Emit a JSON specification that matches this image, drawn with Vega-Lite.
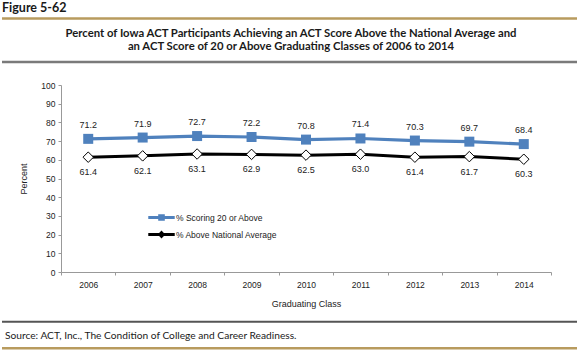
{
  "$schema": "https://vega.github.io/schema/vega-lite/v6.json",
  "padding": 0,
  "spacing": 0,
  "config": {
    "view": {"stroke": null},
    "concat": {"spacing": 0},
    "font": "Liberation Sans"
  },
  "resolve": {"scale": {"x": "independent", "y": "independent"}},
  "vconcat": [
    {
      "width": 577,
      "height": 81,
      "data": {"values": [{}]},
      "layer": [
        {
          "mark": {"type": "text", "align": "left", "baseline": "middle", "font": "Lato", "fontWeight": "bold", "fontSize": 12.5, "color": "#1a1a1a"},
          "encoding": {
            "x": {"datum": 0, "type": "quantitative", "scale": {"domain": [0, 577], "nice": false, "zero": false}, "axis": null},
            "y": {"datum": 7.5, "type": "quantitative", "scale": {"domain": [0, 81], "nice": false, "zero": false, "reverse": true}, "axis": null},
            "text": {"value": "Figure 5-62"}
          }
        },
        {
          "mark": {"type": "rule", "color": "#B89B5E", "strokeWidth": 2.5},
          "encoding": {
            "x": {"datum": 0, "type": "quantitative"},
            "x2": {"datum": 577},
            "y": {"datum": 18.5, "type": "quantitative"}
          }
        },
        {
          "mark": {"type": "text", "align": "center", "baseline": "middle", "font": "Lato", "fontWeight": "bold", "fontSize": 11.3, "color": "#1a1a1a"},
          "encoding": {
            "x": {"datum": 289, "type": "quantitative"},
            "y": {"datum": 33.5, "type": "quantitative"},
            "text": {"value": "Percent of Iowa ACT Participants Achieving an ACT Score Above the National Average and"}
          }
        },
        {
          "mark": {"type": "text", "align": "center", "baseline": "middle", "font": "Lato", "fontWeight": "bold", "fontSize": 11.3, "color": "#1a1a1a"},
          "encoding": {
            "x": {"datum": 289, "type": "quantitative"},
            "y": {"datum": 47, "type": "quantitative"},
            "text": {"value": "an ACT Score of 20 or Above Graduating Classes of 2006 to 2014"}
          }
        },
        {
          "mark": {"type": "rule", "color": "#7a7a7a", "strokeWidth": 2.5},
          "encoding": {
            "x": {"datum": 0, "type": "quantitative"},
            "x2": {"datum": 577},
            "y": {"datum": 62, "type": "quantitative"}
          }
        }
      ]
    },
    {
      "spacing": 0,
      "resolve": {"scale": {"x": "independent", "y": "independent"}},
      "hconcat": [
        {
          "width": 16.5,
          "height": 187,
          "data": {"values": [{}]},
          "mark": {"type": "text", "text": ""},
          "encoding": {}
        },
        {
          "width": 490,
          "height": 187,
          "data": {
            "values": [
              {"year": "2006", "series": "% Scoring 20 or Above", "value": 71.2},
              {"year": "2007", "series": "% Scoring 20 or Above", "value": 71.9},
              {"year": "2008", "series": "% Scoring 20 or Above", "value": 72.7},
              {"year": "2009", "series": "% Scoring 20 or Above", "value": 72.2},
              {"year": "2010", "series": "% Scoring 20 or Above", "value": 70.8},
              {"year": "2011", "series": "% Scoring 20 or Above", "value": 71.4},
              {"year": "2012", "series": "% Scoring 20 or Above", "value": 70.3},
              {"year": "2013", "series": "% Scoring 20 or Above", "value": 69.7},
              {"year": "2014", "series": "% Scoring 20 or Above", "value": 68.4},
              {"year": "2006", "series": "% Above National Average", "value": 61.4},
              {"year": "2007", "series": "% Above National Average", "value": 62.1},
              {"year": "2008", "series": "% Above National Average", "value": 63.1},
              {"year": "2009", "series": "% Above National Average", "value": 62.9},
              {"year": "2010", "series": "% Above National Average", "value": 62.5},
              {"year": "2011", "series": "% Above National Average", "value": 63.0},
              {"year": "2012", "series": "% Above National Average", "value": 61.4},
              {"year": "2013", "series": "% Above National Average", "value": 61.7},
              {"year": "2014", "series": "% Above National Average", "value": 60.3}
            ]
          },
          "encoding": {
            "x": {
              "field": "year", "type": "ordinal", "bandPosition": 0.5,
              "scale": {"type": "band", "paddingInner": 0, "paddingOuter": 0},
              "axis": {
                "title": "Graduating Class", "titleFontSize": 9, "titleFontWeight": "normal", "titleColor": "#222", "titlePadding": 11,
                "labelAngle": 0, "labelFontSize": 8.5, "labelColor": "#222", "labelPadding": 5,
                "tickBand": "extent", "tickSize": 3, "tickColor": "#999", "domainColor": "#999", "grid": false
              }
            },
            "y": {
              "field": "value", "type": "quantitative",
              "scale": {"domain": [0, 100], "nice": false},
              "axis": {
                "title": "Percent", "titleFontSize": 9, "titleFontWeight": "normal", "titleColor": "#222", "titlePadding": 12,
                "values": [0, 10, 20, 30, 40, 50, 60, 70, 80, 90, 100],
                "labelFontSize": 8.5, "labelColor": "#222", "labelPadding": 3,
                "tickSize": 3, "tickColor": "#999", "domainColor": "#999", "grid": false
              }
            }
          },
          "layer": [
            {
              "transform": [{"filter": "datum.series === '% Scoring 20 or Above'"}],
              "mark": {"type": "line", "strokeWidth": 3.2, "color": "#4F81BD"}
            },
            {
              "transform": [{"filter": "datum.series === '% Above National Average'"}],
              "mark": {"type": "line", "strokeWidth": 3, "color": "#000000"}
            },
            {
              "transform": [{"filter": "datum.series === '% Scoring 20 or Above'"}],
              "mark": {"type": "square", "size": 100, "color": "#4F81BD", "opacity": 1}
            },
            {
              "transform": [{"filter": "datum.series === '% Above National Average'"}],
              "mark": {"type": "point", "shape": "diamond", "size": 110, "filled": true, "fill": "white", "stroke": "#000", "strokeWidth": 1, "opacity": 1}
            },
            {
              "mark": {"type": "point", "filled": true, "size": 0, "opacity": 0},
              "encoding": {
                "color": {
                  "field": "series", "type": "nominal",
                  "scale": {"domain": ["% Scoring 20 or Above", "% Above National Average"], "range": ["#4F81BD", "#000000"]},
                  "legend": {
                    "title": null, "orient": "none", "legendX": 146, "legendY": 209,
                    "symbolSize": 700, "symbolStrokeWidth": 0, "symbolOpacity": 1,
                    "labelFontSize": 8.5, "labelColor": "#222", "labelOffset": 1,
                    "rowPadding": 0, "padding": 0, "clipHeight": 17
                  }
                },
                "shape": {
                  "field": "series", "type": "nominal",
                  "scale": {
                    "domain": ["% Scoring 20 or Above", "% Above National Average"],
                    "range": [
                      "M-1,-0.11H-0.25V-0.25H0.25V-0.11H1V0.11H0.25V0.25H-0.25V0.11H-1Z",
                      "M-1,-0.11H-0.18L0,-0.3L0.18,-0.11H1V0.11H0.18L0,0.3L-0.18,0.11H-1Z"
                    ]
                  },
                  "legend": {
                    "title": null, "orient": "none", "legendX": 146, "legendY": 209,
                    "symbolSize": 700, "symbolStrokeWidth": 0, "symbolOpacity": 1,
                    "labelFontSize": 8.5, "labelColor": "#222", "labelOffset": 1,
                    "rowPadding": 0, "padding": 0, "clipHeight": 17
                  }
                }
              }
            },
            {
              "transform": [{"filter": "datum.series === '% Scoring 20 or Above'"}],
              "mark": {"type": "text", "dy": -14, "fontSize": 9, "color": "#222"},
              "encoding": {"text": {"field": "value", "type": "quantitative", "format": ".1f"}}
            },
            {
              "transform": [{"filter": "datum.series === '% Above National Average'"}],
              "mark": {"type": "text", "dy": 15, "fontSize": 9, "color": "#222"},
              "encoding": {"text": {"field": "value", "type": "quantitative", "format": ".1f"}}
            }
          ]
        }
      ]
    },
    {
      "width": 577,
      "height": 46,
      "data": {"values": [{}]},
      "layer": [
        {
          "mark": {"type": "rule", "color": "#555555", "strokeWidth": 2},
          "encoding": {
            "x": {"datum": 0, "type": "quantitative", "scale": {"domain": [0, 577], "nice": false, "zero": false}, "axis": null},
            "x2": {"datum": 577},
            "y": {"datum": 322.7, "type": "quantitative", "scale": {"domain": [310, 356], "nice": false, "zero": false, "reverse": true}, "axis": null}
          }
        },
        {
          "mark": {"type": "text", "align": "left", "baseline": "middle", "font": "Lato", "fontSize": 10.2, "color": "#1a1a1a"},
          "encoding": {
            "x": {"datum": 3, "type": "quantitative"},
            "y": {"datum": 337, "type": "quantitative"},
            "text": {"value": "Source:  ACT, Inc., The Condition of College and Career Readiness."}
          }
        },
        {
          "mark": {"type": "rule", "color": "#B89B5E", "strokeWidth": 2.5},
          "encoding": {
            "x": {"datum": 0, "type": "quantitative"},
            "x2": {"datum": 577},
            "y": {"datum": 349.3, "type": "quantitative"}
          }
        }
      ]
    }
  ]
}
